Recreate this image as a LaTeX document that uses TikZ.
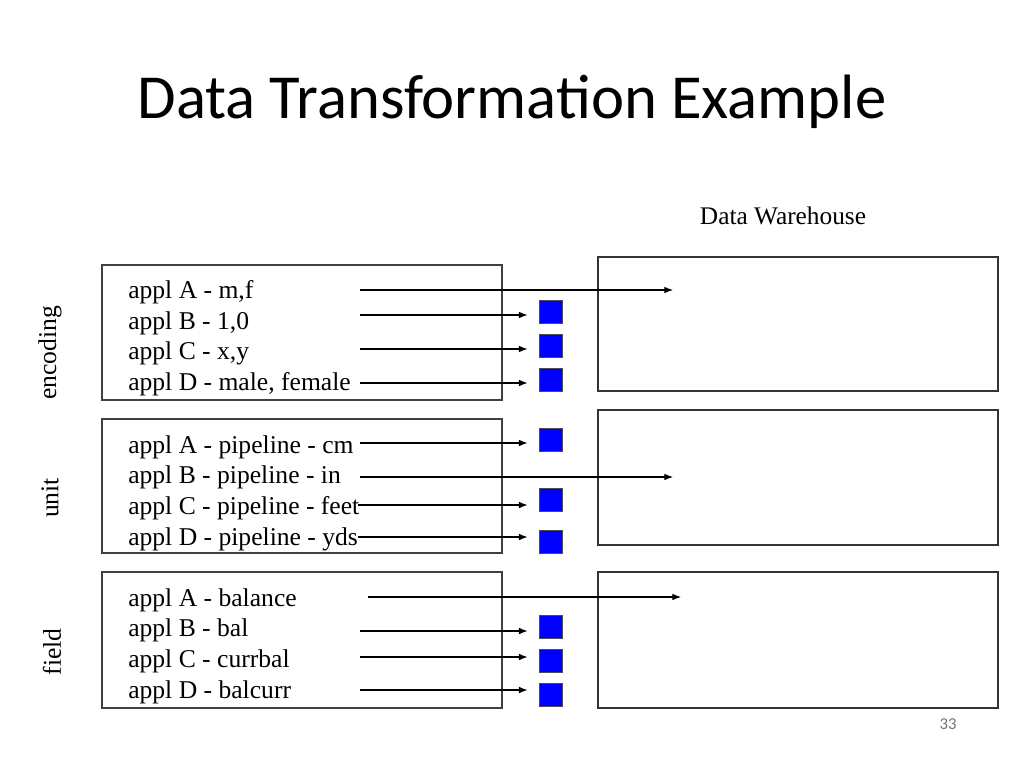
\documentclass[tikz,border=0pt]{standalone}
\usepackage{fontspec}
\usetikzlibrary{arrows.meta}
\setmainfont{Liberation Serif}
\newfontfamily\titlefont{Carlito}
\begin{document}
\begin{tikzpicture}[x=0.75pt,y=-0.75pt,
  srcbox/.style={draw=black!75,line width=0.9pt},
  dwbox/.style={draw=black!80,line width=0.9pt},
  item/.style={anchor=west,inner sep=0pt,font=\fontsize{19.2}{22}\selectfont},
  side/.style={rotate=90,inner sep=0pt,font=\fontsize{19.2}{22}\selectfont},
  sq/.style={draw=black!70,fill=blue,line width=0.6pt,minimum width=17.25pt,minimum height=17.25pt,inner sep=0pt},
  arr/.style={-{Latex[length=6.5pt,width=5pt]},line width=0.8pt}]
\useasboundingbox (0,0) rectangle (1024,768);
% title
\node (title) at (512,102) {\titlefont\fontsize{47}{52}\selectfont Data Transformation Example};
\node (dw) at (783,216) {\fontsize{19}{22}\selectfont Data Warehouse};
\node[text=black!55] (pg) at (948,724) {\titlefont\fontsize{12.5}{14}\selectfont 33};
% source boxes
\draw[srcbox] (102,265) rectangle (502,400);
\draw[srcbox] (102,419) rectangle (502,553);
\draw[srcbox] (102,572) rectangle (502,708);
% warehouse boxes
\draw[dwbox] (598,257) rectangle (998,391);
\draw[dwbox] (598,410) rectangle (998,545);
\draw[dwbox] (598,572) rectangle (998,708);
% side labels
\node[side] (enc) at (50,353) {encoding};
\node[side] (unit) at (50,498) {unit};
\node[side] (field) at (52,652) {field};
% items box 1
\node[item] (e1) at (128,292) {appl A - m,f};
\node[item] (e2) at (128,323) {appl B - 1,0};
\node[item] (e3) at (128,353) {appl C - x,y};
\node[item] (e4) at (128,384) {appl D - male, female};
% items box 2
\node[item] (u1) at (128,447) {appl A - pipeline - cm};
\node[item] (u2) at (128,477) {appl B - pipeline - in};
\node[item] (u3) at (128,508) {appl C - pipeline - feet};
\node[item] (u4) at (128,539) {appl D - pipeline - yds};
% items box 3
\node[item] (f1) at (128,600) {appl A - balance};
\node[item] (f2) at (128,630) {appl B - bal};
\node[item] (f3) at (128,661) {appl C - currbal};
\node[item] (f4) at (128,692) {appl D - balcurr};
% squares
\node[sq] (se2) at (550.5,311.5) {};
\node[sq] (se3) at (550.5,346) {};
\node[sq] (se4) at (550.5,379.5) {};
\node[sq] (su1) at (550.5,439.5) {};
\node[sq] (su3) at (550.5,499.5) {};
\node[sq] (su4) at (550.5,541.5) {};
\node[sq] (sf2) at (550.5,626.5) {};
\node[sq] (sf3) at (550.5,660.5) {};
\node[sq] (sf4) at (550.5,694.5) {};
% arrow start coordinates
\coordinate (ae1) at (360,290);
\coordinate (ae2) at (360,315);
\coordinate (ae3) at (360,349);
\coordinate (ae4) at (360,383);
\coordinate (au1) at (360,443);
\coordinate (au2) at (360,477);
\coordinate (au3) at (358,505);
\coordinate (au4) at (358,537);
\coordinate (af1) at (368,597);
\coordinate (af2) at (360,631);
\coordinate (af3) at (360,657);
\coordinate (af4) at (360,690);
% arrow end coordinates into warehouse
\coordinate (de1) at (673,290);
\coordinate (du2) at (673,477);
\coordinate (df1) at (681,597);
% arrows
\draw[arr] (ae1) -- (de1);
\draw[arr] (ae2) -- ([xshift=-8.25pt]ae2 -| se2.west);
\draw[arr] (ae3) -- ([xshift=-8.25pt]ae3 -| se3.west);
\draw[arr] (ae4) -- ([xshift=-8.25pt]ae4 -| se4.west);
\draw[arr] (au1) -- ([xshift=-8.25pt]au1 -| su1.west);
\draw[arr] (au2) -- (du2);
\draw[arr] (au3) -- ([xshift=-8.25pt]au3 -| su3.west);
\draw[arr] (au4) -- ([xshift=-8.25pt]au4 -| su4.west);
\draw[arr] (af1) -- (df1);
\draw[arr] (af2) -- ([xshift=-8.25pt]af2 -| sf2.west);
\draw[arr] (af3) -- ([xshift=-8.25pt]af3 -| sf3.west);
\draw[arr] (af4) -- ([xshift=-8.25pt]af4 -| sf4.west);
\end{tikzpicture}
\end{document}
